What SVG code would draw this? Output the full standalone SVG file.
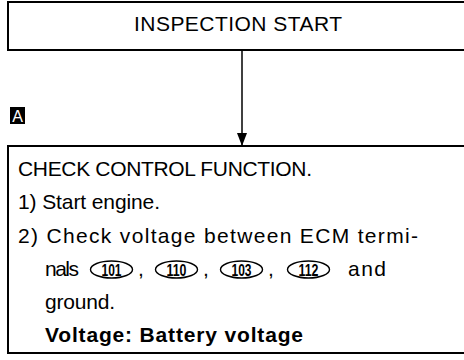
<svg xmlns="http://www.w3.org/2000/svg" width="464" height="360" viewBox="0 0 464 360">
<style>
.box{fill:#fff;stroke:#000;stroke-width:2}
.t{font-family:"Liberation Sans",Arial,sans-serif;font-size:21px;fill:#000}
.b{font-weight:bold}
.num{font-family:"Liberation Sans",Arial,sans-serif;font-size:16px;font-weight:bold;fill:#000;text-anchor:middle}
.term{fill:none;stroke:#000;stroke-width:1.4}
.conn{stroke:#000;stroke-width:1.5;fill:none}
</style>
<defs>
<marker id="arr" markerUnits="userSpaceOnUse" markerWidth="14" markerHeight="10" refX="13" refY="5" orient="auto" viewBox="0 0 14 10">
<path d="M0,0 L13,5 L0,10 Z" fill="#000"/>
</marker>
</defs>
<g id="connectors">
<line class="conn" x1="242" y1="51" x2="242" y2="146" marker-end="url(#arr)"/>
</g>
<g id="start">
<rect class="box" x="8" y="2" width="470" height="48"/>
<text class="t" x="238" y="31" text-anchor="middle" textLength="208" lengthAdjust="spacing">INSPECTION START</text>
</g>
<g id="badge">
<rect x="10" y="107" width="15" height="17" fill="#000"/>
<text x="17.5" y="121.5" font-family="Liberation Sans,Arial,sans-serif" font-size="16" fill="#fff" text-anchor="middle">A</text>
</g>
<g id="check">
<rect class="box" x="8" y="146" width="470" height="207"/>
<text class="t" x="18" y="176" textLength="294" lengthAdjust="spacing">CHECK CONTROL FUNCTION.</text>
<text class="t" x="18" y="209" textLength="142" lengthAdjust="spacing">1) Start engine.</text>
<text class="t" x="18" y="243" textLength="400" lengthAdjust="spacing">2) Check voltage between ECM termi-</text>
<text class="t" x="45" y="276" textLength="34" lengthAdjust="spacing">nals</text>
<ellipse class="term" cx="111.5" cy="269.5" rx="21" ry="8.5"/>
<text class="num" x="111.5" y="275.5" textLength="20" lengthAdjust="spacingAndGlyphs">101</text>
<text class="t" x="138" y="276">,</text>
<ellipse class="term" cx="176.5" cy="269.5" rx="21" ry="8.5"/>
<text class="num" x="176.5" y="275.5" textLength="20" lengthAdjust="spacingAndGlyphs">110</text>
<text class="t" x="203" y="276">,</text>
<ellipse class="term" cx="241.5" cy="269.5" rx="21" ry="8.5"/>
<text class="num" x="241.5" y="275.5" textLength="20" lengthAdjust="spacingAndGlyphs">103</text>
<text class="t" x="268" y="276">,</text>
<ellipse class="term" cx="308.5" cy="269.5" rx="21" ry="8.5"/>
<text class="num" x="308.5" y="275.5" textLength="20" lengthAdjust="spacingAndGlyphs">112</text>
<text class="t" x="348" y="276" textLength="38" lengthAdjust="spacing">and</text>
<text class="t" x="45" y="309" textLength="70" lengthAdjust="spacing">ground.</text>
<text class="t b" x="45" y="342" textLength="258" lengthAdjust="spacing">Voltage: Battery voltage</text>
</g>
</svg>
